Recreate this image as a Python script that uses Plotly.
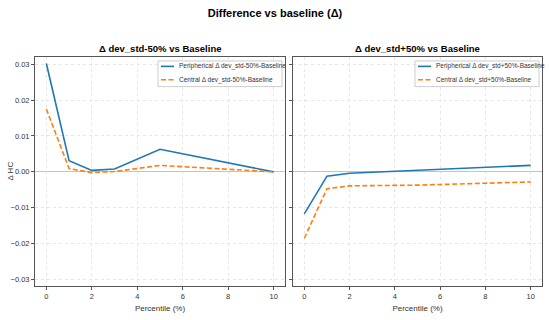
import plotly.graph_objects as go
from plotly.subplots import make_subplots

percentiles = [0, 1, 2, 3, 5, 10]
periph_minus = [0.0302, 0.0031, 0.0004, 0.0008, 0.0063, 0.0000]
central_minus = [0.0175, 0.0009, -0.0002, 0.0001, 0.0018, 0.0000]
periph_plus = [-0.0117, -0.0012, -0.0004, -0.0001, 0.0004, 0.0018]
central_plus = [-0.0185, -0.0047, -0.0039, -0.0038, -0.0037, -0.0028]
y_ticks = [-0.03, -0.02, -0.01, 0.00, 0.01, 0.02, 0.03]
y_tick_labels = ["−0.03", "−0.02", "−0.01", "0.00", "0.01", "0.02", "0.03"]
x_ticks = [0, 2, 4, 6, 8, 10]
legend_left = ["Peripherical Δ dev_std-50%-Baseline", "Central Δ dev_std-50%-Baseline"]
legend_right = ["Peripherical Δ dev_std+50%-Baseline", "Central Δ dev_std+50%-Baseline"]

FONT = "Liberation Sans, Arial, sans-serif"
BLUE = "#1f77b4"
ORANGE = "#ff7f0e"
DASH = "5px,2.5px"
W, H = 550, 320
ML, MR, MT, MB = 35, 8, 57, 31
PW = W - ML - MR
PH = H - MT - MB

fig = make_subplots(rows=1, cols=2, shared_yaxes=True, horizontal_spacing=0.016,
                    subplot_titles=("<b>Δ dev_std-50% vs Baseline</b>", "<b>Δ dev_std+50% vs Baseline</b>"))

fig.add_trace(go.Scatter(x=percentiles, y=periph_minus, mode="lines", name=legend_left[0],
                         line=dict(color=BLUE, width=1.6)), row=1, col=1)
fig.add_trace(go.Scatter(x=percentiles, y=central_minus, mode="lines", name=legend_left[1],
                         line=dict(color=ORANGE, width=1.6, dash=DASH)), row=1, col=1)
fig.add_trace(go.Scatter(x=percentiles, y=periph_plus, mode="lines", name=legend_right[0],
                         line=dict(color=BLUE, width=1.6)), row=1, col=2)
fig.add_trace(go.Scatter(x=percentiles, y=central_plus, mode="lines", name=legend_right[1],
                         line=dict(color=ORANGE, width=1.6, dash=DASH)), row=1, col=2)

axis_common = dict(showline=True, mirror=True, linecolor="#555", linewidth=1,
                   showgrid=True, gridcolor="#e6e6e6", griddash="dot", gridwidth=1,
                   ticks="outside", ticklen=3, tickcolor="#555",
                   tickfont=dict(family=FONT, size=7.5, color="#333"))

fig.update_xaxes(**axis_common, range=[-0.5, 10.5], tickvals=x_ticks, zeroline=False,
                 title=dict(text="Percentile (%)", font=dict(family=FONT, size=8, color="#333"), standoff=5))
fig.update_yaxes(**axis_common, range=[-0.0318, 0.0320], tickvals=y_ticks, automargin=False,
                 zeroline=True, zerolinecolor="#c4c4c4", zerolinewidth=1)
fig.update_yaxes(ticktext=y_tick_labels, row=1, col=1)
fig.update_yaxes(showticklabels=False, row=1, col=2)

dom_left = [0, 250 / PW]
dom_right = [(293 - ML) / PW, 1]
fig.update_xaxes(domain=dom_left, row=1, col=1)
fig.update_xaxes(domain=dom_right, row=1, col=2)

fig.update_layout(
    width=W, height=H,
    margin=dict(l=ML, r=MR, t=MT, b=MB),
    paper_bgcolor="white", plot_bgcolor="white",
    showlegend=False,
    title=dict(text="<b>Difference vs baseline (Δ)</b>", x=0.5, xanchor="center",
               y=1 - 13 / H, yanchor="middle",
               font=dict(family=FONT, size=11, color="black")),
    font=dict(family=FONT),
)
for ann in fig.layout.annotations:
    ann.font = dict(family=FONT, size=9.5, color="black")
    ann.y = 1.0
    ann.yshift = 1

# y-axis title
fig.add_annotation(text="Δ HC", textangle=-90, xref="paper", yref="paper",
                   x=(10 - ML) / PW, y=0.5, xanchor="center", yanchor="middle", showarrow=False,
                   font=dict(family=FONT, size=8, color="#333"))

# legends drawn in axis-domain coordinates
def add_legend(xref, yref, dom, labels):
    dw = (dom[1] - dom[0]) * PW
    box_w = 124
    right_px = dw - 3
    left_px = right_px - box_w
    top_px, bot_px = 4, 30
    fx = lambda p: p / dw
    fy = lambda p: 1 - p / PH
    fig.add_shape(type="rect", xref=xref, yref=yref, x0=fx(left_px), x1=fx(right_px),
                  y0=fy(bot_px), y1=fy(top_px), line=dict(color="#cccccc", width=1),
                  fillcolor="rgba(255,255,255,0.85)", layer="above")
    rows = [(9.5, BLUE, "solid"), (23, ORANGE, DASH)]
    for (ypx, col, dash), lab in zip(rows, labels):
        fig.add_shape(type="line", xref=xref, yref=yref, x0=fx(left_px + 3), x1=fx(left_px + 16),
                      y0=fy(ypx), y1=fy(ypx), line=dict(color=col, width=1.6, dash=dash), layer="above")
        fig.add_annotation(text=lab, xref=xref, yref=yref, x=fx(left_px + 19), y=fy(ypx),
                           xanchor="left", yanchor="middle", showarrow=False,
                           font=dict(family=FONT, size=6.5, color="#333"))

add_legend("x domain", "y domain", dom_left, legend_left)
add_legend("x2 domain", "y2 domain", dom_right, legend_right)

fig.write_html("out.html", config={"displayModeBar": False},
               post_script="document.body.style.margin='0';")
